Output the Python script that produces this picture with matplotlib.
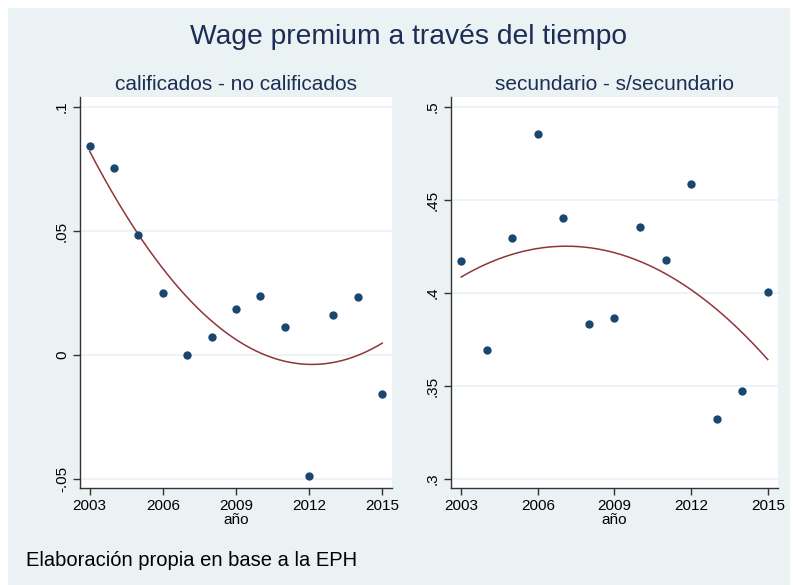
import numpy as np
import matplotlib
matplotlib.use("Agg")
import matplotlib.pyplot as plt
from matplotlib.patches import Rectangle

plt.rcParams['font.family'] = ['Liberation Sans', 'DejaVu Sans']

years = [2003, 2004, 2005, 2006, 2007, 2008, 2009, 2010, 2011, 2012, 2013, 2014, 2015]
calif = [0.0843, 0.0754, 0.0484, 0.0250, 0.0000, 0.0073, 0.0185, 0.0238,
         0.0113, -0.0488, 0.0161, 0.0234, -0.0157]
secund = [0.4172, 0.3694, 0.4296, 0.4855, 0.4403, 0.3833, 0.3866, 0.4355,
          0.4177, 0.4586, 0.3323, 0.3473, 0.4005]

x_ticks = [2003, 2006, 2009, 2012, 2015]
calif_ticks = [-0.05, 0, 0.05, 0.1]
calif_labels = ["-.05", "0", ".05", ".1"]
secund_ticks = [0.3, 0.35, 0.4, 0.45, 0.5]
secund_labels = [".3", ".35", ".4", ".45", ".5"]

bg = "#eaf2f3"
navy = "#1a476f"
maroon = "#90353b"
title_col = "#1e2d55"

fig = plt.figure(figsize=(7.93, 5.85), dpi=100, facecolor="white")
W, H = 793, 585
fig.patches.append(Rectangle((8 / W, 0), (790 - 8) / W, 1 - 8 / H,
                             transform=fig.transFigure, facecolor=bg,
                             edgecolor="none", zorder=-10))


def panel(rect, y, ticks, labels, ylim, subtitle):
    ax = fig.add_axes(rect)
    ax.set_facecolor("white")
    x = np.array(years, dtype=float)
    yy = np.array(y)
    # quadratic fit line, as in Stata's qfit
    coef = np.polyfit(x, yy, 2)
    xs = np.linspace(2003, 2015, 200)
    ax.plot(xs, np.polyval(coef, xs), color=maroon, lw=1.1, zorder=3)
    ax.scatter(x, yy, s=36, color=navy, zorder=4, linewidths=0)
    ax.set_xlim(2002.6, 2015.4)
    ax.set_ylim(*ylim)
    ax.set_xticks(x_ticks)
    ax.set_xticklabels([str(t) for t in x_ticks], fontsize=11)
    ax.set_yticks(ticks)
    ax.set_yticklabels(labels, fontsize=11, rotation=90, va="center")
    ax.grid(axis="y", color=bg, lw=1.2)
    ax.set_axisbelow(True)
    for s in ["top", "right"]:
        ax.spines[s].set_visible(False)
    for s in ["left", "bottom"]:
        ax.spines[s].set_color("#333333")
        ax.spines[s].set_linewidth(1.0)
    ax.tick_params(direction="out", length=5, width=1, color="#333333", pad=3)
    ax.set_xlabel("año", fontsize=11, labelpad=0)
    ax.set_title(subtitle, fontsize=15, color=title_col, pad=5)
    return ax


panel([80 / W, 1 - 488 / H, (392 - 80) / W, (488 - 97) / H], calif,
      calif_ticks, calif_labels, (-0.0536, 0.104), "calificados - no calificados")
panel([451 / W, 1 - 488 / H, (778 - 451) / W, (488 - 97) / H], secund,
      secund_ticks, secund_labels, (0.2952, 0.5054), "secundario - s/secundario")

fig.text(409 / W, 1 - 37 / H, "Wage premium a través del tiempo", fontsize=20.3,
         color=title_col, ha="center", va="center")
fig.text(26 / W, 1 - 561 / H, "Elaboración propia en base a la EPH", fontsize=14.5,
         color="black", ha="left", va="center")

fig.savefig("out.png", dpi=100, facecolor="white")
